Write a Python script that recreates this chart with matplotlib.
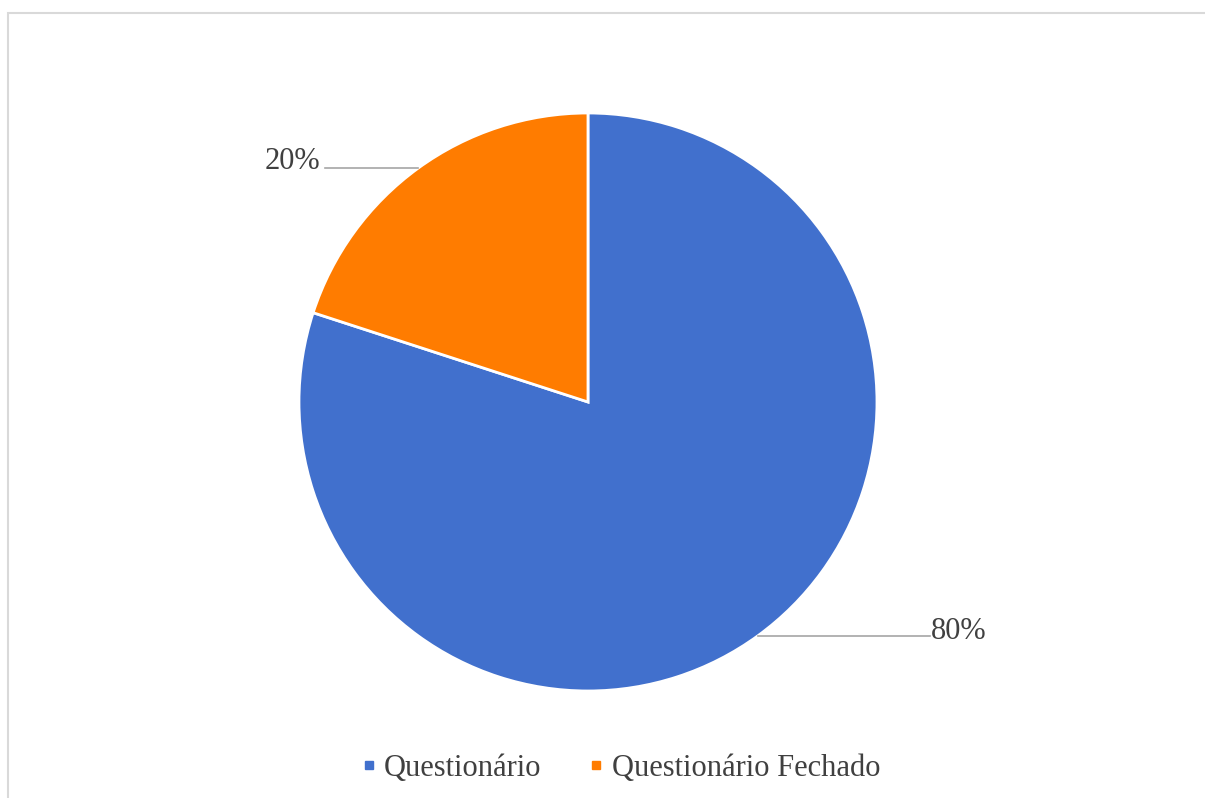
import numpy as np
import matplotlib
matplotlib.use("Agg")
import matplotlib.pyplot as plt
from matplotlib.lines import Line2D
from matplotlib.patches import Rectangle

# data
labels = ["Questionário", "Questionário Fechado"]
values = [80, 20]
pct_labels = ["80%", "20%"]

_BLUE = "#4170CD"
_ORANGE = "#FF7C00"
_TEXT = "#404040"
_LINE = "#A6A6A6"

plt.rcParams["font.family"] = ["Liberation Serif", "DejaVu Serif"]

fig = plt.figure(figsize=(12.05, 7.98), dpi=100)
fig.patch.set_facecolor("white")

# light chart frame
fig.patches.append(Rectangle((8 / 1205, -0.1), 1.2, 1.1 - 13 / 798,
                             transform=fig.transFigure, fill=False,
                             edgecolor="#D9D9D9", linewidth=1.5))

ax = fig.add_axes([0.2481, 0.1341, 0.4797, 0.7243])
wedges, _ = ax.pie(values, colors=[_BLUE, _ORANGE], startangle=90,
                   counterclock=False, radius=1,
                   wedgeprops=dict(edgecolor="white", linewidth=2))
ax.set_xlim(-1, 1)
ax.set_ylim(-1, 1)
ax.set_aspect("equal")
ax.axis("off")

# data labels with horizontal leader lines
for w, txt in zip(wedges, pct_labels):
    ang = np.deg2rad((w.theta1 + w.theta2) / 2)
    x0, y0 = np.cos(ang), np.sin(ang)
    if x0 > 0:
        x1 = 1.183
        ax.plot([x0, x1], [y0, y0], color=_LINE, lw=1.2, clip_on=False)
        ax.text(x1 + 0.003, y0 + 0.015, txt, ha="left", va="center",
                fontsize=22, color=_TEXT)
    else:
        x1 = -0.91
        ax.plot([x1, x0], [y0, y0], color=_LINE, lw=1.2, clip_on=False)
        ax.text(x1 - 0.015, y0 + 0.022, txt, ha="right", va="center",
                fontsize=22, color=_TEXT)

handles = [Line2D([], [], marker="s", linestyle="none", markersize=6,
                  color=c) for c in (_BLUE, _ORANGE)]
leg = fig.legend(handles, labels, loc="center", bbox_to_anchor=(0.515, 0.037),
                 ncol=2, frameon=False, fontsize=22, handlelength=0.5,
                 handletextpad=0.25, columnspacing=1.55)
for t in leg.get_texts():
    t.set_color(_TEXT)

fig.savefig("out.png", dpi=100)
